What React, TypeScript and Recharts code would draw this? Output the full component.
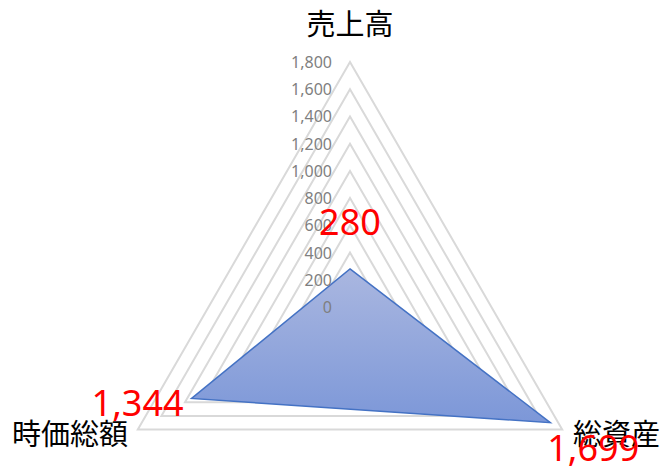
import { RadarChart, Radar, PolarGrid, PolarAngleAxis, PolarRadiusAxis } from 'recharts';

const categories = ['売上高', '総資産', '時価総額'];
const values = [280, 1699, 1344];
const radiusTicks = [0, 200, 400, 600, 800, 1000, 1200, 1400, 1600, 1800];

const data = categories.map((name, i) => ({ name, value: values[i] }));

const fmt = (v: number) => v.toLocaleString('en-US');

// label nudges, in the order of categories
const angleOffsets = [
  { dx: 0, dy: -32, anchor: 'middle' },
  { dx: 4, dy: -2, anchor: 'start' },
  { dx: -3, dy: -2, anchor: 'end' },
];
const valueOffsets = [
  { dx: 0, dy: -47 },
  { dx: 43, dy: 25 },
  { dx: -54, dy: 4 },
];

function AngleTick(props: any) {
  const { x, y, payload, index } = props;
  const o = angleOffsets[index] || angleOffsets[0];
  return (
    <text
      x={x + o.dx}
      y={y + o.dy}
      textAnchor={o.anchor}
      dominantBaseline="central"
      fontSize={29}
      fontFamily="'Noto Sans CJK JP', sans-serif"
      fill="#000"
    >
      {payload.value}
    </text>
  );
}

function RadiusTick(props: any) {
  const { x, y, payload } = props;
  return (
    <text
      x={x - 18}
      y={y}
      textAnchor="end"
      dominantBaseline="central"
      fontSize={16}
      fontFamily="'Noto Sans', sans-serif"
      fill="#7f7f7f"
    >
      {fmt(payload.value)}
    </text>
  );
}

function ValueLabel(props: any) {
  const { x, y, value, index } = props;
  const o = valueOffsets[index] || { dx: 0, dy: 0 };
  return (
    <text
      x={x + o.dx}
      y={y + o.dy}
      textAnchor="middle"
      dominantBaseline="central"
      fontSize={36}
      fontFamily="'Noto Sans', sans-serif"
      fill="#ff0000"
    >
      {fmt(value)}
    </text>
  );
}

export default function App() {
  return (
    <div style={{ position: 'absolute', left: 0, top: 0, width: 670, height: 475, background: '#fff' }}>
      <RadarChart width={670} height={475} data={data} cx={350} cy={307} outerRadius={245} margin={{ top: 0, right: 0, bottom: 0, left: 0 }}>
        <defs>
          <linearGradient id="radarFill" x1="0" y1="0" x2="0" y2="1">
            <stop offset="0%" stopColor="#aab7e0" />
            <stop offset="100%" stopColor="#7c97d8" />
          </linearGradient>
        </defs>
        <PolarGrid gridType="polygon" radialLines={false} stroke="#d9d9d9" strokeWidth={2} />
        <PolarAngleAxis dataKey="name" tick={<AngleTick />} tickLine={false} axisLine={false} />
        <Radar
          dataKey="value"
          stroke="#4472c4"
          strokeWidth={1.5}
          fill="url(#radarFill)"
          fillOpacity={1}
          isAnimationActive={false}
          label={<ValueLabel />}
        />
        <PolarRadiusAxis
          angle={90}
          domain={[0, 1800]}
          ticks={radiusTicks}
          tick={<RadiusTick />}
          axisLine={false}
          tickLine={false}
          tickCount={10}
        />
      </RadarChart>
    </div>
  );
}
